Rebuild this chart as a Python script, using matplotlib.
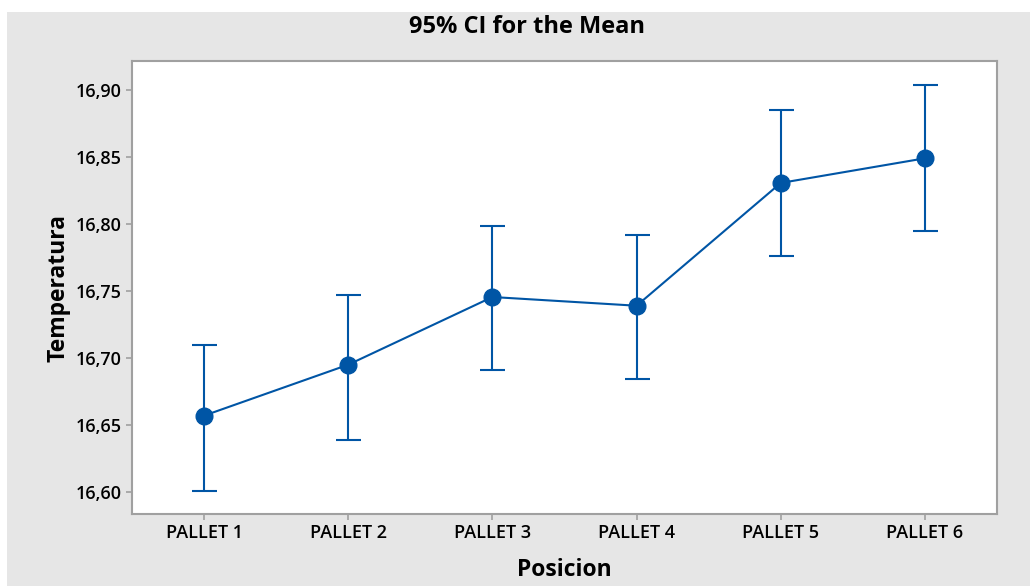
import matplotlib
matplotlib.use("Agg")
import matplotlib.pyplot as plt
from matplotlib.patches import Rectangle
from matplotlib.ticker import FuncFormatter

categories = ["PALLET 1", "PALLET 2", "PALLET 3", "PALLET 4", "PALLET 5", "PALLET 6"]
means = [16.657, 16.695, 16.7455, 16.739, 16.8306, 16.849]
upper = [16.7097, 16.747, 16.7985, 16.7918, 16.885, 16.9037]
lower = [16.6007, 16.6388, 16.691, 16.6843, 16.7761, 16.7948]
yticks = [16.60, 16.65, 16.70, 16.75, 16.80, 16.85, 16.90]

plt.rcParams['font.family'] = ['Open Sans', 'DejaVu Sans']

W, H = 1030, 586
fig = plt.figure(figsize=(W/100, H/100), dpi=100, facecolor='white')
fig.patches.append(Rectangle((7/W, 0), 1 - 7/W, 1 - 12/H, transform=fig.transFigure,
                             facecolor='#e6e6e6', edgecolor='none', zorder=-10))

ax = fig.add_axes([132/W, 1 - 514/H, (997-132)/W, (514-61)/H])
ax.set_facecolor('white')

color = '#0055a5'
x = list(range(1, len(categories) + 1))
yerr = [[m - l for m, l in zip(means, lower)], [u - m for m, u in zip(means, upper)]]
ax.errorbar(x, means, yerr=yerr, color=color, lw=1.5, elinewidth=1.5,
            capsize=9, capthick=1.5, marker='o', markersize=12, zorder=3)

ax.set_xlim(0.5, 6.5)
ax.set_ylim(16.5836, 16.9216)
ax.set_xticks(x)
ax.set_xticklabels(categories, fontsize=13, fontweight='semibold')
ax.set_yticks(yticks)
ax.yaxis.set_major_formatter(FuncFormatter(lambda v, p: f"{v:.2f}".replace('.', ',')))
for lab in ax.get_yticklabels():
    lab.set_fontsize(13)
    lab.set_fontweight('semibold')

for s in ax.spines.values():
    s.set_color('#a0a0a0')
    s.set_linewidth(1.5)
ax.tick_params(axis='both', colors='#a0a0a0', labelcolor='black', length=4, width=1.2)

ax.set_xlabel("Posicion", fontsize=16.5, fontweight='bold', labelpad=11)
ax.set_ylabel("Temperatura", fontsize=16.5, fontweight='bold', labelpad=4)
fig.text(527/W, 1 - 27/H, "95% CI for the Mean", ha='center', va='center',
         fontsize=17, fontweight='bold')

fig.savefig("out.png", dpi=100, facecolor=fig.get_facecolor())
